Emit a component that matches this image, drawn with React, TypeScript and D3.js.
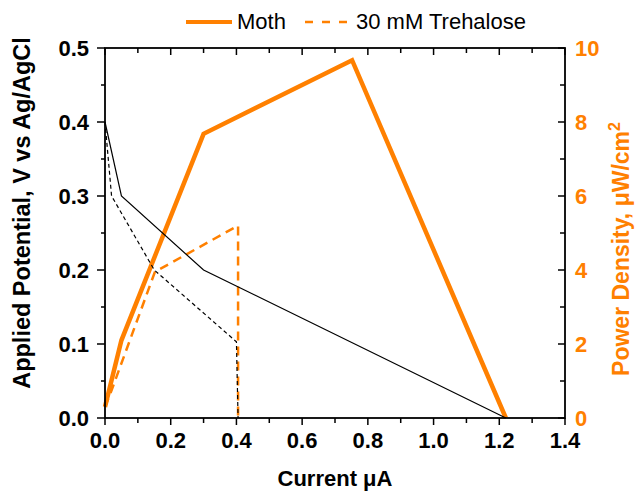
import React from "react";
import * as d3 from "d3";

const xTicks = [0, 0.2, 0.4, 0.6, 0.8, 1.0, 1.2, 1.4];
const yLeftTicks = [0, 0.1, 0.2, 0.3, 0.4, 0.5];
const yRightTicks = [0, 2, 4, 6, 8, 10];

// V-I curves (left axis)
const mothCurrent = [0, 0.05, 0.3, 1.22];
const mothPotential = [0.4, 0.3, 0.2, 0.0];
const trehCurrent = [0, 0.02, 0.15, 0.4, 0.405];
const trehPotential = [0.4, 0.3, 0.2, 0.103, 0.0];

// Power density curves (right axis)
const mothPowerCurrent = [0, 0.05, 0.3, 0.752, 1.22];
const mothPower = [0.3, 2.1, 7.68, 9.67, 0.0];
const trehPowerCurrent = [0, 0.02, 0.152, 0.405, 0.405];
const trehPower = [0.3, 0.75, 3.95, 5.2, 0.0];

const ORANGE = "#FF8000";
const W = 635;
const H = 492;
const L = 105, R = 565, T = 48, B = 418;
const FONT = "'Liberation Sans', Arial, sans-serif";

export default function App() {
  const x = d3.scaleLinear().domain([0, 1.4]).range([L, R]);
  const yL = d3.scaleLinear().domain([0, 0.5]).range([B, T]);
  const yR = d3.scaleLinear().domain([0, 10]).range([B, T]);

  const line = (xs: number[], ys: number[], ys2: d3.ScaleLinear<number, number>) =>
    d3.line<number>().x((_, i) => x(xs[i])).y((v) => ys2(v))(ys) as string;

  const xMinor = d3.range(0, 1.41, 0.1);
  const yLMinor = d3.range(0, 0.501, 0.05);
  const yRMinor = d3.range(0, 10.01, 1);

  return (
    <svg width={W} height={H} style={{ position: "absolute", left: 0, top: 0, background: "#fff" }} fontFamily={FONT}>
      {/* legend */}
      <line x1={186} x2={232} y1={22} y2={22} stroke={ORANGE} strokeWidth={4} />
      <text x={237} y={29} fontSize={22} fill="#000">Moth</text>
      <line x1={305} x2={348} y1={22} y2={22} stroke={ORANGE} strokeWidth={2.5} strokeDasharray="8,9" />
      <text x={356} y={29} fontSize={22} fill="#000">30 mM Trehalose</text>

      {/* data: orange */}
      <path d={line(mothPowerCurrent, mothPower, yR)} fill="none" stroke={ORANGE} strokeWidth={4.5} strokeLinejoin="miter" />
      <path d={line(trehPowerCurrent, trehPower, yR)} fill="none" stroke={ORANGE} strokeWidth={2.5} strokeDasharray="9,6" />
      {/* data: black */}
      <path d={line(mothCurrent, mothPotential, yL)} fill="none" stroke="#000" strokeWidth={1.2} />
      <path d={line(trehCurrent, trehPotential, yL)} fill="none" stroke="#000" strokeWidth={1.2} strokeDasharray="4,3" />

      {/* frame */}
      <rect x={L} y={T} width={R - L} height={B - T} fill="none" stroke="#000" strokeWidth={1.8} />

      {/* bottom ticks (outward) */}
      {xMinor.map((v, i) => (
        <line key={"bx" + i} x1={x(v)} x2={x(v)} y1={B} y2={B + (i % 2 === 0 ? 7 : 5)} stroke="#000" strokeWidth={1.5} />
      ))}
      {/* top ticks (inward) */}
      {xMinor.map((v, i) => (
        <line key={"tx" + i} x1={x(v)} x2={x(v)} y1={T} y2={T + (i % 2 === 0 ? 7 : 5)} stroke="#000" strokeWidth={1.5} />
      ))}
      {xTicks.map((v) => (
        <text key={"xl" + v} x={x(v)} y={448} textAnchor="middle" fontSize={22} fontWeight="bold" fill="#000">
          {v.toFixed(1)}
        </text>
      ))}

      {/* left ticks (outward) */}
      {yLMinor.map((v, i) => (
        <line key={"ly" + i} x1={L - (i % 2 === 0 ? 8 : 4)} x2={L} y1={yL(v)} y2={yL(v)} stroke="#000" strokeWidth={1.5} />
      ))}
      {yLeftTicks.map((v) => (
        <text key={"yl" + v} x={89} y={yL(v) + 8} textAnchor="end" fontSize={22} fontWeight="bold" fill="#000">
          {v.toFixed(1)}
        </text>
      ))}

      {/* right ticks (inward) */}
      {yRMinor.map((v, i) => (
        <line key={"ry" + i} x1={R - (i % 2 === 0 ? 7 : 5)} x2={R} y1={yR(v)} y2={yR(v)} stroke="#000" strokeWidth={1.5} />
      ))}
      {yRightTicks.map((v) => (
        <text key={"yr" + v} x={575} y={yR(v) + 8} textAnchor="start" fontSize={22} fontWeight="bold" fill={ORANGE}>
          {v}
        </text>
      ))}

      {/* axis titles */}
      <text x={335} y={486} textAnchor="middle" fontSize={22} fontWeight="bold" fill="#000">Current μA</text>
      <text transform="translate(30,213) rotate(-90)" textAnchor="middle" fontSize={23.5} fontWeight="bold" fill="#000">
        Applied Potential, V vs Ag/AgCl
      </text>
      <text transform="translate(629,249) rotate(-90)" textAnchor="middle" fontSize={23} fontWeight="bold" fill={ORANGE}>
        Power Density, μW/cm<tspan dy={-9} fontSize={16}>2</tspan>
      </text>
    </svg>
  );
}
